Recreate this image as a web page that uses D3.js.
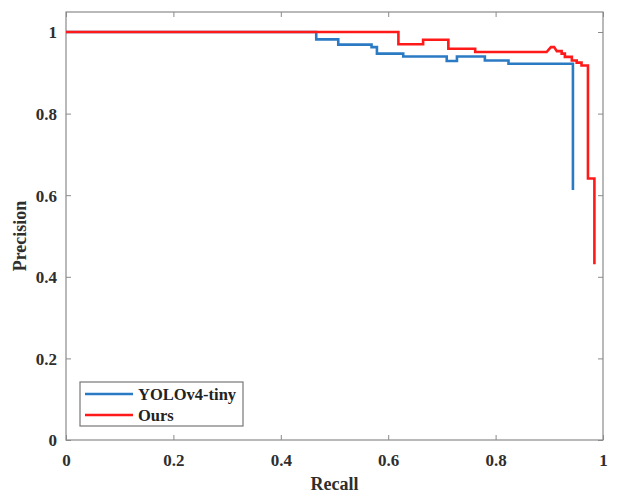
<!DOCTYPE html>
<html><head><meta charset="utf-8">
<script src="https://cdn.jsdelivr.net/npm/d3@7"></script>
<style>body{margin:0;background:#fff}svg{display:block}</style>
</head><body>
<script>
const xTicks = [0, 0.2, 0.4, 0.6, 0.8, 1];
const yTicks = [0, 0.2, 0.4, 0.6, 0.8, 1];
const seriesNames = ["YOLOv4-tiny", "Ours"];
const yoloRecall = [0,0.466,0.466,0.507,0.507,0.569,0.569,0.579,0.579,0.628,0.628,0.709,0.709,0.728,0.728,0.780,0.780,0.824,0.824,0.944,0.944];
const yoloPrecision = [1,1,0.982,0.982,0.969,0.969,0.963,0.963,0.947,0.947,0.940,0.940,0.929,0.929,0.940,0.940,0.930,0.930,0.922,0.922,0.613];
const oursRecall = [0,0.619,0.619,0.665,0.665,0.712,0.712,0.762,0.762,0.895,0.903,0.909,0.914,0.923,0.923,0.929,0.929,0.942,0.942,0.951,0.951,0.960,0.960,0.972,0.972,0.984,0.984];
const oursPrecision = [1,1,0.970,0.970,0.981,0.981,0.959,0.959,0.951,0.951,0.963,0.963,0.953,0.953,0.947,0.947,0.939,0.939,0.930,0.930,0.925,0.925,0.918,0.918,0.641,0.641,0.431];
const colors = ["#2b7bc4", "#ff1a1a"];

const W = 617, H = 494;
const L = 66, R = 603, T = 12, B = 440;
const svg = d3.select("body").append("svg").attr("width", W).attr("height", H);
const x = d3.scaleLinear().domain([0, 1]).range([L, R]);
const y = d3.scaleLinear().domain([0, 1.049]).range([B, T]);
const font = "'Liberation Serif', 'Times New Roman', serif";
const tickLen = 5;

// frame
svg.append("rect").attr("x", L).attr("y", T).attr("width", R - L).attr("height", B - T)
  .attr("fill", "none").attr("stroke", "#8a8a8a").attr("stroke-width", 1.2);

// ticks inside on all sides
const gx = svg.append("g").attr("transform", `translate(0,${B})`)
  .call(d3.axisBottom(x).tickValues(xTicks).tickSize(-tickLen).tickPadding(14).tickFormat(d => d3.format("")(d)));
const gxTop = svg.append("g").attr("transform", `translate(0,${T})`)
  .call(d3.axisTop(x).tickValues(xTicks).tickSize(-tickLen).tickFormat(""));
const gy = svg.append("g").attr("transform", `translate(${L},0)`)
  .call(d3.axisLeft(y).tickValues(yTicks).tickSize(-tickLen).tickPadding(9).tickFormat(d => d3.format("")(d)));
const gyR = svg.append("g").attr("transform", `translate(${R},0)`)
  .call(d3.axisRight(y).tickValues(yTicks).tickSize(-tickLen).tickFormat(""));
[gx, gxTop, gy, gyR].forEach(g => {
  g.select(".domain").remove();
  g.selectAll("line").attr("stroke", "#8a8a8a").attr("stroke-width", 1);
  g.selectAll("text").attr("font-family", font).attr("font-weight", "bold")
    .attr("font-size", 17).attr("fill", "#2e2e2e");
});
gx.selectAll("text").attr("dy", "0.71em");
gy.selectAll("text").attr("dy", "0.35em");

// axis titles
svg.append("text").attr("x", (L + R) / 2).attr("y", 490).attr("text-anchor", "middle")
  .attr("font-family", font).attr("font-weight", "bold").attr("font-size", 18).attr("fill", "#2e2e2e")
  .text("Recall");
svg.append("text").attr("transform", `translate(26,${(T + B) / 2 + 10}) rotate(-90)`).attr("text-anchor", "middle")
  .attr("font-family", font).attr("font-weight", "bold").attr("font-size", 18).attr("fill", "#2e2e2e")
  .text("Precision");

// lines
const line = d3.line().x(d => x(d[0])).y(d => y(d[1]));
const series = [
  d3.zip(yoloRecall, yoloPrecision),
  d3.zip(oursRecall, oursPrecision)
];
series.forEach((s, i) => {
  svg.append("path").datum(s).attr("d", line).attr("fill", "none")
    .attr("stroke", colors[i]).attr("stroke-width", 2.6).attr("stroke-linejoin", "miter");
});

// legend
const lg = svg.append("g");
lg.append("rect").attr("x", 80).attr("y", 382).attr("width", 163).attr("height", 44)
  .attr("fill", "#fff").attr("stroke", "#777").attr("stroke-width", 1.2);
seriesNames.forEach((n, i) => {
  const yy = 394 + i * 21;
  lg.append("line").attr("x1", 85).attr("x2", 133).attr("y1", yy).attr("y2", yy)
    .attr("stroke", colors[i]).attr("stroke-width", 2.6);
  lg.append("text").attr("x", 138).attr("y", yy).attr("dy", "0.35em")
    .attr("font-family", font).attr("font-weight", "bold").attr("font-size", 16.5).attr("fill", "#222")
    .text(n);
});
</script>
</body></html>
